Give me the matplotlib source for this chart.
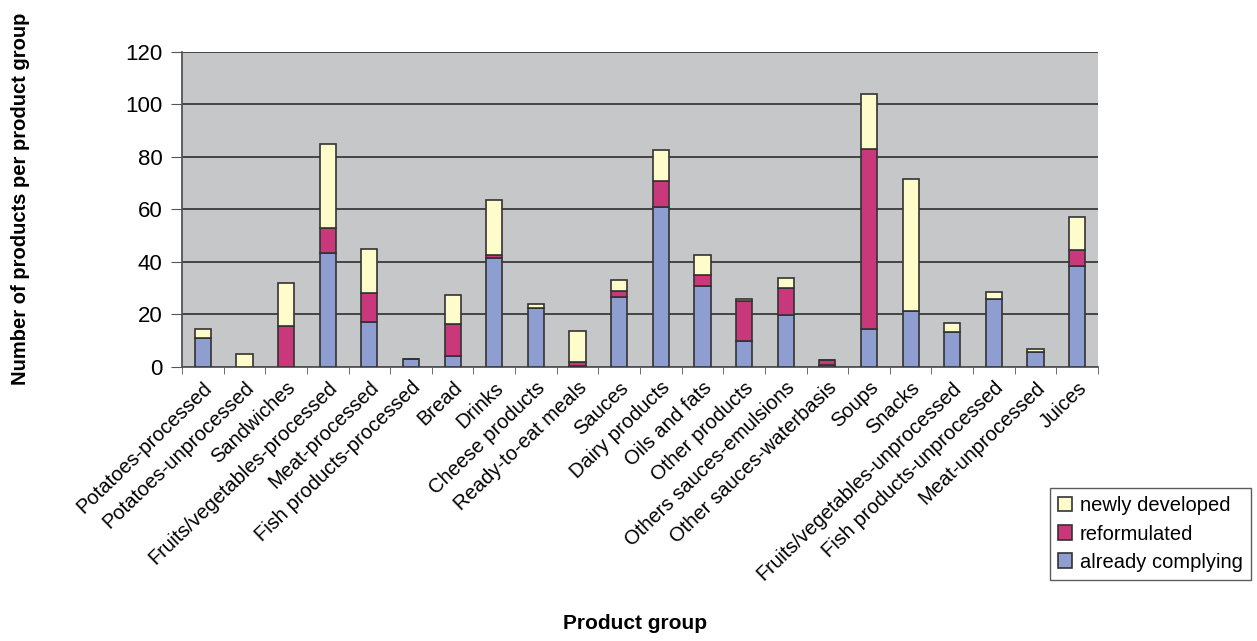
import numpy as np
import matplotlib
matplotlib.use("Agg")
import matplotlib.pyplot as plt

plt.rcParams['font.family'] = ['Liberation Sans', 'DejaVu Sans']

groups = ["Potatoes-processed", "Potatoes-unprocessed", "Sandwiches",
          "Fruits/vegetables-processed", "Meat-processed", "Fish products-processed",
          "Bread", "Drinks", "Cheese products", "Ready-to-eat meals", "Sauces",
          "Dairy products", "Oils and fats", "Other products", "Others sauces-emulsions",
          "Other sauces-waterbasis", "Soups", "Snacks", "Fruits/vegetables-unprocessed",
          "Fish products-unprocessed", "Meat-unprocessed", "Juices"]

complying = [11, 0, 0, 43.5, 17, 3, 4, 41.5, 22.5, 0.5, 26.5, 61, 31, 10, 19.7,
             0.8, 14.5, 21.5, 13.5, 26, 5.8, 38.5]
reformulated = [0, 0, 15.5, 9.5, 11, 0, 12.5, 1, 0, 1.3, 2.5, 10, 4, 15, 10.3,
                2, 68.5, 0, 0, 0, 0, 6.2]
newly = [3.5, 5, 16.5, 32, 17, 0, 11, 21, 1.5, 11.8, 4.3, 11.5, 7.8, 1, 4,
         0, 21, 50, 3.2, 2.4, 1, 12.4]

complying = np.array(complying)
reformulated = np.array(reformulated)
newly = np.array(newly)

fig = plt.figure(figsize=(12.57, 6.41), dpi=100)
ax = fig.add_axes([0.1448, 0.4275, 0.7287, 0.4915])

x = np.arange(len(groups))
w = 0.39
edge = dict(edgecolor='#333333', linewidth=1.2)
b1 = ax.bar(x, complying, w, color='#8e9ed1', label='already complying', zorder=3, **edge)
b2 = ax.bar(x, reformulated, w, bottom=complying, color='#c8387a', label='reformulated', zorder=3, **edge)
b3 = ax.bar(x, newly, w, bottom=complying + reformulated, color='#fefccb', label='newly developed', zorder=3, **edge)

ax.set_facecolor('#c6c7c9')
ax.set_xlim(-0.5, len(groups) - 0.5)
ax.set_ylim(0, 120)
ax.set_yticks(range(0, 121, 20))
ax.yaxis.grid(True, color='#3a3a3a', linewidth=1.3, zorder=1)
ax.set_axisbelow(True)

for s in ['top', 'right']:
    ax.spines[s].set_visible(False)
ax.spines['left'].set_color('#555555')
ax.spines['bottom'].set_color('#555555')
ax.spines['left'].set_linewidth(1.3)
ax.spines['bottom'].set_linewidth(1.3)

# category labels at centres, tick marks at boundaries (Excel style)
ax.set_xticks(x)
ax.set_xticklabels(groups, rotation=44, ha='right', rotation_mode='anchor', fontsize=14.5)
ax.tick_params(axis='x', length=0, pad=8)
ax.set_xticks(np.arange(-0.5, len(groups)), minor=True)
ax.tick_params(axis='x', which='minor', length=5, color='#555555')
ax.tick_params(axis='y', length=8, color='#555555', labelsize=16, pad=6)

fig.text(0.016, 0.69, "Number of products per product group", rotation=90,
         ha='center', va='center', fontsize=14.5, fontweight='bold')
fig.text(0.505, 0.012, "Product group", ha='center', va='bottom', fontsize=15, fontweight='bold')

leg = fig.legend(handles=[b3, b2, b1], loc='lower right', bbox_to_anchor=(1.003, 0.08),
                 fontsize=14.5, frameon=True, fancybox=False, edgecolor='#333333',
                 handlelength=0.7, handleheight=0.7, borderpad=0.4, labelspacing=0.45,
                 handletextpad=0.4)

fig.savefig("out.png", dpi=100)
